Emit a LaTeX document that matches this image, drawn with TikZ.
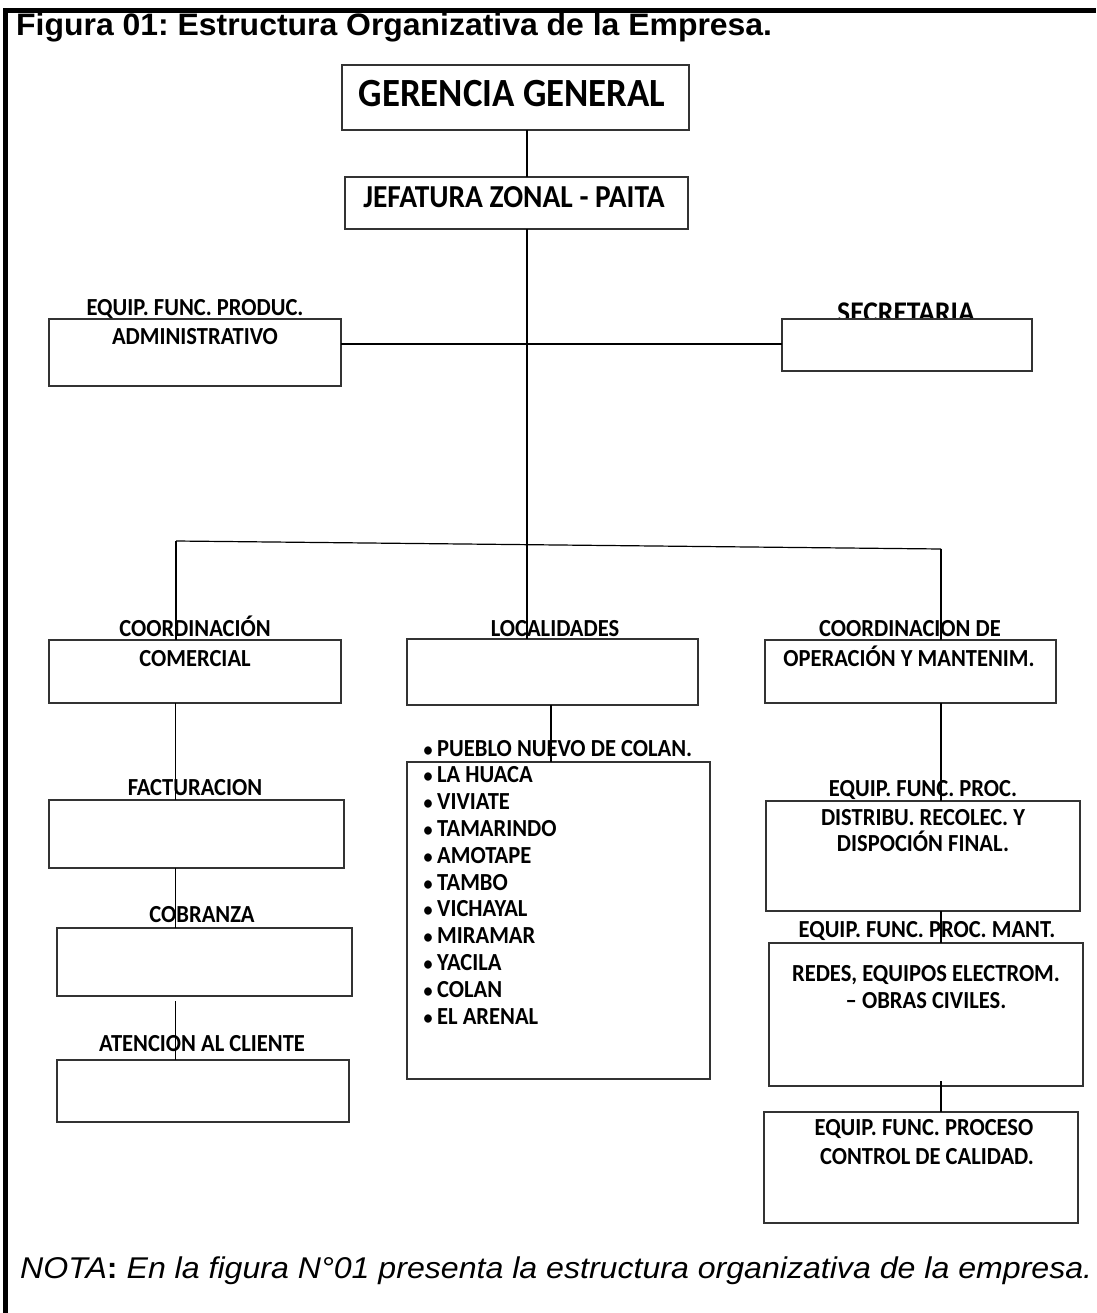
\documentclass[tikz,border=0pt]{standalone}
\usepackage{fontspec}
\setmainfont{Carlito}
\newfontfamily\lblfont[FakeStretch=0.92]{Carlito}
\newfontfamily\titlefont[FakeStretch=1.03]{Liberation Sans}
\newfontfamily\notefont[FakeStretch=1.07]{Liberation Sans}
\usetikzlibrary{fit}
\frenchspacing
\begin{document}
\begin{tikzpicture}[x=1pt,y=-1pt,
  box/.style={draw=black!80, line width=1.5pt, fill=white, inner sep=0pt, outer sep=0pt},
  conn/.style={draw=black, line width=1.2pt},
  lbl/.style={anchor=base, inner sep=0pt, font=\lblfont\fontsize{24.5}{29}\selectfont\bfseries},
  item/.style={anchor=base west, inner sep=0pt, font=\lblfont\fontsize{24.5}{29}\selectfont\bfseries},
  frame/.style={draw=black, line width=5pt, line join=miter}
]
\useasboundingbox (0,0) rectangle (1096,1313);
\fill[white] (0,0) rectangle (1096,1313);
% frame
\draw[frame] (5,1313) -- (5,11) -- (1096,11);
% title
\node[anchor=base west, inner sep=0pt, font=\titlefont\fontsize{31}{37}\selectfont\bfseries] (title) at (16,36) {Figura 01: Estructura Organizativa de la Empresa.};
% label partly hidden behind its box
\node[lbl, font=\lblfont\fontsize{30}{36}\selectfont\bfseries] (secl) at (906,322) {SECRETARIA};
% boxes
\node[box, fit={(342,65)(689,130)}] (gg) {};
\node[box, fit={(345,177)(688,229)}] (jz) {};
\node[box, fit={(49,319)(341,386)}] (adm) {};
\node[box, fit={(782,319)(1032,371)}] (sec) {};
\node[box, fit={(49,640)(341,703)}] (com) {};
\node[box, fit={(407,639)(698,705)}] (loc) {};
\node[box, fit={(765,640)(1056,703)}] (ope) {};
\node[box, fit={(49,800)(344,868)}] (fac) {};
\node[box, fit={(57,928)(352,996)}] (cob) {};
\node[box, fit={(57,1060)(349,1122)}] (ate) {};
\node[box, fit={(407,762)(710,1079)}] (lst) {};
\node[box, fit={(766,801)(1080,911)}] (dis) {};
\node[box, fit={(769,943)(1083,1086)}] (red) {};
\node[box, fit={(764,1112)(1078,1223)}] (qc) {};
% connector guide coordinates
\coordinate (tx) at (527,0);
\coordinate (lx) at (175.5,0);
\coordinate (mx) at (551,0);
\coordinate (rx) at (941,0);
\coordinate (hy) at (0,344);
\coordinate (bl) at (176,541);
\coordinate (br) at (941,549);
% connectors
\draw[conn] (gg.south -| tx) -- (jz.north -| tx);
\draw[conn] (jz.south -| tx) -- (loc.north -| tx);
\draw[conn] (adm.east |- hy) -- (sec.west |- hy);
\draw[conn] (bl) -- (br);
\draw[conn] (bl) -- (com.north -| bl);
\draw[conn] (br) -- (ope.north -| br);
\draw[conn] (com.south -| lx) -- (fac.north -| lx);
\draw[conn] (fac.south -| lx) -- (cob.north -| lx);
\draw[conn] (cob.south -| lx) ++(0,5) -- (ate.north -| lx);
\draw[conn] (loc.south -| mx) -- (lst.north -| mx);
\draw[conn] (ope.south -| rx) -- (dis.north -| rx);
\draw[conn] (dis.south -| rx) -- (red.north -| rx);
\draw[conn] (red.south -| rx) ++(0,-5) -- (qc.north -| rx);
% labels
\node[lbl, font=\lblfont\fontsize{40}{48}\selectfont\bfseries] (ggl) at (512,107) {GERENCIA GENERAL};
\node[lbl, font=\lblfont\fontsize{32}{38}\selectfont\bfseries] (jzl) at (514,208) {JEFATURA ZONAL - PAITA};
\node[lbl] (adml1) at (195,316) {EQUIP. FUNC. PRODUC.};
\node[lbl] (adml2) at (195,344) {ADMINISTRATIVO};
\node[lbl] (coml1) at (195,636) {COORDINACIÓN};
\node[lbl] (coml2) at (195,666) {COMERCIAL};
\node[lbl] (locl) at (555,636) {LOCALIDADES};
\node[lbl] (opel1) at (910,636) {COORDINACION DE};
\node[lbl] (opel2) at (909,666) {OPERACIÓN Y MANTENIM.};
\node[lbl] (facl) at (195,795) {FACTURACION};
\node[lbl] (cobl) at (202,922) {COBRANZA};
\node[lbl] (atel) at (202,1051) {ATENCION AL CLIENTE};
\node[lbl] (disl0) at (923,796) {EQUIP. FUNC. PROC.};
\node[lbl] (disl1) at (923,825) {DISTRIBU. RECOLEC. Y};
\node[lbl] (disl2) at (923,851) {DISPOCIÓN FINAL.};
\node[lbl] (redl0) at (927,937) {EQUIP. FUNC. PROC. MANT.};
\node[lbl] (redl1) at (926,981) {REDES, EQUIPOS ELECTROM.};
\node[lbl] (redl2) at (926,1008) {– OBRAS CIVILES.};
\node[lbl] (qcl1) at (924,1135) {EQUIP. FUNC. PROCESO};
\node[lbl] (qcl2) at (927,1164) {CONTROL DE CALIDAD.};
% list of localities
\foreach \t [count=\i from 0] in {PUEBLO NUEVO DE COLAN.,LA HUACA,VIVIATE,TAMARINDO,AMOTAPE,TAMBO,VICHAYAL,MIRAMAR,YACILA,COLAN,EL ARENAL}
  \node[item] (it\i) at (437,756+26.8*\i) {\llap{\makebox[0pt][c]{\scalebox{0.8}{•}}\hspace{9pt}}\t};
% note
\node[anchor=base west, inner sep=0pt, font=\notefont\fontsize{30}{36}\selectfont] (note) at (20,1278)
  {\itshape NOTA\textup{\bfseries :} En la figura N°01 presenta la estructura organizativa de la empresa.};
\end{tikzpicture}
\end{document}
